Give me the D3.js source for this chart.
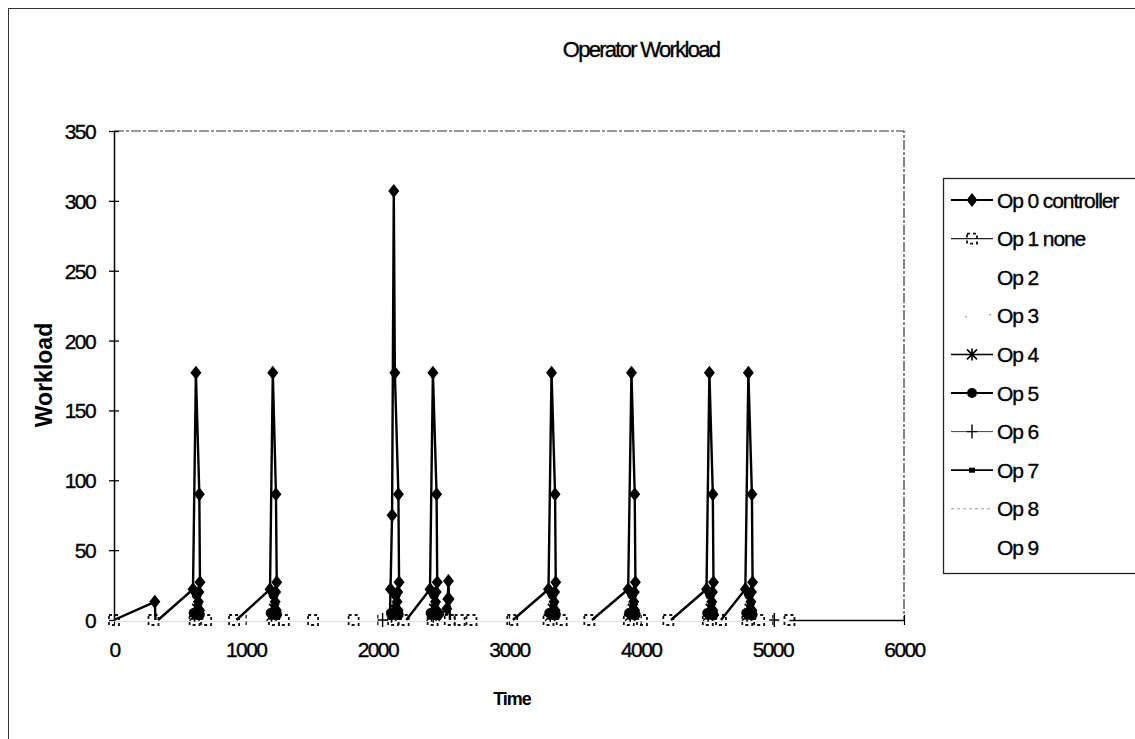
<!DOCTYPE html>
<html>
<head>
<meta charset="utf-8">
<script src="https://cdn.jsdelivr.net/npm/d3@7/dist/d3.min.js"></script>
<style>
  html, body { margin: 0; padding: 0; background: #fff; }
  svg { display: block; }
  text { font-family: "Liberation Sans", Arial, sans-serif; fill: #000; }
</style>
</head>
<body>
<svg id="chart" width="1135" height="739"></svg>
<script>
// ---------------- DATA ----------------
const title = "Operator Workload";
const xTitle = "Time";
const yTitle = "Workload";
const xTicks = [0, 1000, 2000, 3000, 4000, 5000, 6000];
const yTicks = [0, 50, 100, 150, 200, 250, 300, 350];
const seriesNames = ["Op 0 controller", "Op 1 none", "Op 2", "Op 3", "Op 4", "Op 5", "Op 6", "Op 7", "Op 8", "Op 9"];

// [time, workload]; null = break in the line
const op0 = [
  [0,0],[310,13],[315,0], null,
  [335,0],[600,22],[622,177],[648,90],[653,27],[645,20],[641,13],[650,7],[665,0], null,
  [930,0],[1185,22],[1206,177],[1230,90],[1236,27],[1228,20],[1224,13],[1233,7],[1250,0], null,
  [2095,0],[2100,22],[2112,75],[2125,307],[2133,177],[2160,90],[2165,27],[2155,20],[2150,13],[2158,7],[2175,0], null,
  [2220,0],[2400,22],[2422,177],[2450,90],[2455,27],[2447,20],[2442,13],[2450,7],[2470,4],[2528,8],[2535,15],[2540,28],[2545,15],[2552,0], null,
  [3030,0],[3300,22],[3323,177],[3350,90],[3355,27],[3347,20],[3342,13],[3350,7],[3365,0], null,
  [3630,0],[3905,22],[3930,177],[3955,90],[3960,27],[3952,20],[3947,13],[3955,7],[3970,0], null,
  [4230,0],[4500,22],[4522,177],[4548,90],[4553,27],[4545,20],[4540,13],[4548,7],[4565,0], null,
  [4610,0],[4795,22],[4818,177],[4845,90],[4850,27],[4842,20],[4837,13],[4845,7],[4860,0]
];
const op1 = [
  [0,0],[300,0],[612,0],[700,0],[912,0],[1215,0],[1290,0],[1512,0],[1820,0],[2120,0],[2200,0],
  [2420,0],[2550,0],[2625,0],[2715,0],[3025,0],[3300,0],[3400,0],[3610,0],[3910,0],[4010,0],
  [4210,0],[4510,0],[4610,0],[4810,0],[4900,0],[5130,0]
];
const op4 = [
  [612,3],[632,8], null, [1196,3],[1216,8], null, [2108,3],[2130,8], null, [2412,3],[2432,8], null,
  [3313,3],[3333,8], null, [3920,3],[3940,8], null, [4512,3],[4532,8], null, [4808,3],[4828,8]
];
const op5 = [
  [605,5],[628,18],[652,4], null, [1190,5],[1212,18],[1238,4], null, [2104,5],[2140,18],[2162,4], null,
  [2405,5],[2430,18],[2458,4], null, [3306,5],[3330,18],[3356,4], null, [3912,5],[3936,18],[3962,4], null,
  [4506,5],[4528,18],[4554,4], null, [4802,5],[4824,18],[4850,4]
];
const op6 = [
  [2040,0], null, [2108,3],[2128,6], null, [2425,3], null, [5015,0]
];
const op7 = [
  [615,2],[640,10],[656,2], null, [1200,2],[1224,10],[1240,2], null, [2118,2],[2145,10],[2165,2], null,
  [2415,2],[2438,10],[2460,2], null, [3316,2],[3340,10],[3360,2], null, [3922,2],[3946,10],[3966,2], null,
  [4516,2],[4540,10],[4558,2], null, [4811,2],[4835,10],[4855,2]
];

// ---------------- CHART ----------------
const svg = d3.select("#chart");
svg.append("rect").attr("width", 1135).attr("height", 739).attr("fill", "#fff");

// outer chart frame
svg.append("rect").attr("x", 8.5).attr("y", 8.5).attr("width", 1140).attr("height", 800)
  .attr("fill", "none").attr("stroke", "#333").attr("stroke-width", 1);

const x = d3.scaleLinear().domain([0, 6000]).range([114, 904]);
const y = d3.scaleLinear().domain([0, 350]).range([620, 131]);

// plot area top/right border (scanned look)
svg.append("path")
  .attr("d", `M${x(0)},${y(350)}H${x(6000)}V${y(0)}`)
  .attr("fill", "none").attr("stroke", "#333").attr("stroke-width", 1.2)
  .attr("stroke-dasharray", "10 2 3 2");

const heavy = sel => sel.style("stroke", "#000").style("stroke-width", "0.35px");

// title
svg.append("text").attr("x", 641).attr("y", 57).attr("text-anchor", "middle")
  .style("font-size", "22px").style("letter-spacing", "-1.7px").text(title).call(heavy);

// y axis
const yAxis = svg.append("g").attr("transform", `translate(${x(0)},0)`)
  .call(d3.axisLeft(y).tickValues(yTicks).tickSizeInner(5).tickSizeOuter(0));
yAxis.select(".domain").attr("stroke", "#000").attr("stroke-width", 1.5);
yAxis.selectAll(".tick line").attr("x1", 5).attr("x2", -5).attr("stroke", "#000").attr("stroke-width", 1.3);
yAxis.selectAll(".tick text").attr("x", -19).attr("dy", "0.36em")
  .style("font-size", "21px").style("letter-spacing", "-1.6px")
  .style("font-family", '"Liberation Sans", Arial, sans-serif').attr("fill", "#000").call(heavy);

// x axis
const xAxis = svg.append("g").attr("transform", `translate(0,${y(0)})`)
  .call(d3.axisBottom(x).tickValues(xTicks).tickSizeInner(5).tickSizeOuter(0).tickFormat(d3.format("d")));
xAxis.select(".domain").attr("stroke", "#000").attr("stroke-width", 1.3);
xAxis.selectAll(".tick line").attr("y1", -5).attr("y2", 5).attr("stroke", "#000").attr("stroke-width", 1.2);
xAxis.selectAll(".tick text").attr("y", 22).attr("dy", "0.71em")
  .style("font-size", "21px").style("letter-spacing", "-1.6px")
  .style("font-family", '"Liberation Sans", Arial, sans-serif').attr("fill", "#000").call(heavy);

// axis titles
svg.append("text").attr("x", 512).attr("y", 705).attr("text-anchor", "middle")
  .style("font-size", "18px").style("font-weight", "bold").style("letter-spacing", "-1px").text(xTitle);
svg.append("text").attr("transform", "translate(52,375) rotate(-90)").attr("text-anchor", "middle")
  .style("font-size", "23px").style("font-weight", "bold").style("letter-spacing", "0px").text(yTitle);

// ---------------- MARKERS ----------------
const markers = {
  diamond: g => g.append("path").attr("d", "M0,-7L5.5,0L0,7L-5.5,0Z").attr("fill", "#000"),
  square: g => g.append("rect").attr("x", -5).attr("y", -5).attr("width", 10).attr("height", 10)
    .attr("fill", "none").attr("stroke", "#111").attr("stroke-width", 1.8).attr("stroke-dasharray", "3 3"),
  asterisk: g => g.append("path").attr("d", "M-5,-5L5,5M-5,5L5,-5M0,-6V6")
    .attr("stroke", "#000").attr("stroke-width", 1.6).attr("fill", "none"),
  circle: g => g.append("circle").attr("r", 5).attr("fill", "#000"),
  plus: g => g.append("path").attr("d", "M-5,0H5M0,-7V7").attr("stroke", "#000").attr("stroke-width", 1.4),
  smallsq: g => g.append("rect").attr("x", -3).attr("y", -2.5).attr("width", 6).attr("height", 5).attr("fill", "#000")
};

const line = d3.line().defined(d => d != null).x(d => x(d[0])).y(d => y(d[1]));

function drawSeries(data, marker, stroke, width, hideZero) {
  const g = svg.append("g");
  g.append("path").datum(data).attr("d", line).attr("fill", "none")
    .attr("stroke", stroke).attr("stroke-width", width).attr("stroke-linejoin", "round");
  const pts = data.filter(d => d != null && !(hideZero && d[1] === 0));
  g.selectAll("g.m").data(pts).join("g").attr("class", "m")
    .attr("transform", d => `translate(${x(d[0])},${y(d[1])})`)
    .each(function() { markers[marker](d3.select(this)); });
}

// Op 1 sits on the baseline; its (light) line hides the axis in the scan
drawSeries(op1, "square", "#fff", 3, false);
drawSeries(op7, "smallsq", "#000", 1.5, true);
drawSeries(op6, "plus", "#000", 1.2, false);
drawSeries(op5, "circle", "#000", 1.8, true);
drawSeries(op4, "asterisk", "#000", 1.5, true);
drawSeries(op0, "diamond", "#000", 2.4, true);

// ---------------- LEGEND ----------------
svg.append("rect").attr("x", 943.5).attr("y", 178.5).attr("width", 200).attr("height", 395)
  .attr("fill", "#fff").attr("stroke", "#222").attr("stroke-width", 1.3);

const legendSpec = [
  {marker: "diamond", line: "#000", w: 1.8},
  {marker: "square", line: "#222", w: 1.2},
  {marker: null, line: null},
  {marker: null, line: "dots"},
  {marker: "asterisk", line: "#000", w: 1.5},
  {marker: "circle", line: "#000", w: 2},
  {marker: "plus", line: "#444", w: 1},
  {marker: "smallsq", line: "#000", w: 1.8},
  {marker: null, line: "#999", w: 1, dash: "3 3"},
  {marker: null, line: null}
];

seriesNames.forEach((name, i) => {
  const cy = 200 + i * 38.6;
  const g = svg.append("g").attr("transform", `translate(0,${cy})`);
  const spec = legendSpec[i];
  if (spec.line === "dots") {
    g.append("circle").attr("cx", 966).attr("cy", 1).attr("r", 0.8).attr("fill", "#777");
    g.append("circle").attr("cx", 990).attr("cy", -1).attr("r", 0.8).attr("fill", "#777");
  } else if (spec.line) {
    g.append("line").attr("x1", 951).attr("x2", 993).attr("y1", 0).attr("y2", 0)
      .attr("stroke", spec.line).attr("stroke-width", spec.w).attr("stroke-dasharray", spec.dash || null);
  }
  if (spec.marker) {
    const mg = g.append("g").attr("transform", "translate(972,0)");
    markers[spec.marker](mg);
  }
  g.append("text").attr("x", 997).attr("y", 0).attr("dy", "0.36em")
    .style("font-size", "21px").style("letter-spacing", "-1.1px").text(name).call(heavy);
});
</script>
</body>
</html>
